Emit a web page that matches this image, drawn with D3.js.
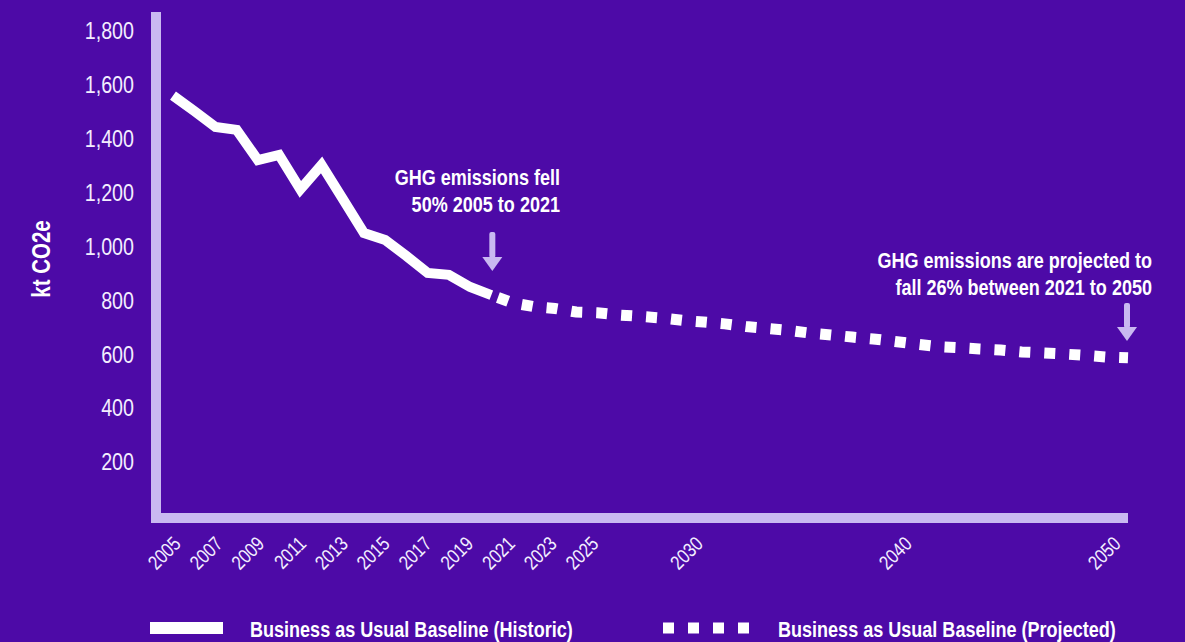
<!DOCTYPE html>
<html>
<head>
<meta charset="utf-8">
<script src="https://cdn.jsdelivr.net/npm/d3@7"></script>
<style>
  body { margin: 0; background: #4d0aa7; }
  svg { display: block; }
  .narrow { font-family: "Liberation Sans", Arial, sans-serif; }
</style>
</head>
<body>
<div id="chart"></div>
<script>
// Historic emissions, kt CO2e
var historicYears = [2005, 2006, 2007, 2008, 2009, 2010, 2011, 2012, 2013, 2014, 2015, 2016, 2017, 2018, 2019, 2020];
var historicValues = [1560, 1503, 1444, 1433, 1321, 1340, 1212, 1303, 1177, 1050, 1024, 965, 902, 895, 850, 820];

// Business as usual projection
var projectedYears = [2020, 2021, 2022, 2023, 2024, 2025, 2026, 2027, 2028, 2029,
  2030, 2031, 2032, 2033, 2034, 2035, 2036, 2037, 2038, 2039,
  2040, 2041, 2042, 2043, 2044, 2045, 2046, 2047, 2048, 2049, 2050];
var projectedValues = [820, 791, 777, 770, 757, 754, 746, 741, 735, 726,
  720, 713, 703, 696, 689, 679, 672, 664, 657, 648,
  638, 629, 625, 620, 616, 609, 605, 601, 596, 590, 587];

var xTicks = [2005, 2007, 2009, 2011, 2013, 2015, 2017, 2019, 2021, 2023, 2025, 2030, 2040, 2050];
var yTicks = [200, 400, 600, 800, 1000, 1200, 1400, 1600, 1800];

var width = 1185,
    height = 642;

var bg = "#4d0aa7",
    axisColor = "#c9b9f1",
    textColor = "#f3eeff";

// the original uses a narrow face, squeeze Liberation Sans to match
var squeeze = "scale(0.82,1)";

var svg = d3.select("#chart").append("svg")
  .attr("width", width)
  .attr("height", height);

svg.append("rect")
  .attr("width", width)
  .attr("height", height)
  .attr("fill", bg);

// Scales
var x = d3.scaleLinear()
  .domain([2005, 2050])
  .range([173, 1128]);

// tick labels sit slightly off the data positions in the original
var xLabel = x.copy().range([182, 1122]);

var y = d3.scaleLinear()
  .domain([0, 1800])
  .range([516, 31]);

// Axis bars
svg.append("rect")
  .attr("x", 151)
  .attr("y", 12)
  .attr("width", 10)
  .attr("height", 523 - 12)
  .attr("fill", axisColor);

svg.append("rect")
  .attr("x", 151)
  .attr("y", 513)
  .attr("width", x(2050) - 151)
  .attr("height", 10)
  .attr("fill", axisColor);

// Y axis labels
var yAxis = d3.axisLeft(y)
  .tickValues(yTicks)
  .tickSize(0)
  .tickPadding(0)
  .tickFormat(d3.format(","));

var yAxisG = svg.append("g")
  .attr("transform", "translate(134,0)")
  .call(yAxis);
yAxisG.select(".domain").remove();
yAxisG.selectAll("text")
  .attr("class", "narrow")
  .attr("fill", textColor)
  .attr("transform", squeeze)
  .style("font-size", "24px");

// X axis labels
svg.append("g")
  .selectAll("text")
  .data(xTicks)
  .enter()
  .append("text")
  .attr("class", "narrow")
  .attr("fill", textColor)
  .attr("text-anchor", "end")
  .style("font-size", "20px")
  .attr("transform", function(d) { return "translate(" + xLabel(d) + ",545) rotate(-45) " + squeeze; })
  .text(function(d) { return d; });

// Y axis title
svg.append("text")
  .attr("class", "narrow")
  .attr("transform", "translate(50,259) rotate(-90) " + squeeze)
  .attr("text-anchor", "middle")
  .attr("fill", "#ffffff")
  .style("font-size", "25px")
  .style("font-weight", "bold")
  .text("kt CO2e");

// Lines
var line = d3.line()
  .x(function(d) { return x(d[0]); })
  .y(function(d) { return y(d[1]); });

var historic = historicYears.map(function(d, i) { return [d, historicValues[i]]; });
var projected = projectedYears.map(function(d, i) { return [d, projectedValues[i]]; });

svg.append("path")
  .datum(projected)
  .attr("d", line)
  .attr("fill", "none")
  .attr("stroke", "#ffffff")
  .attr("stroke-width", 11)
  .attr("stroke-dasharray", "11,14")
  .attr("stroke-dashoffset", 18);

svg.append("path")
  .datum(historic)
  .attr("d", line)
  .attr("fill", "none")
  .attr("stroke", "#ffffff")
  .attr("stroke-width", 10)
  .attr("stroke-linejoin", "miter");

// Annotations
function arrow(cx, top, tip) {
  var g = svg.append("g").attr("fill", axisColor);
  g.append("rect")
    .attr("x", cx - 3)
    .attr("y", top)
    .attr("width", 6)
    .attr("height", tip - 13 - top)
    .attr("rx", 2);
  g.append("path")
    .attr("d", "M" + (cx - 10) + "," + (tip - 14) + "L" + (cx + 10) + "," + (tip - 14) + "L" + cx + "," + tip + "Z");
}

function note(xRight, yFirst, lines) {
  var t = svg.append("g")
    .attr("transform", "translate(" + xRight + ",0) " + squeeze)
    .append("text")
    .attr("class", "narrow")
    .attr("text-anchor", "end")
    .attr("fill", "#ffffff")
    .style("font-size", "22px")
    .style("font-weight", "bold");
  lines.forEach(function(l, i) {
    t.append("tspan")
      .attr("x", 0)
      .attr("y", yFirst + i * 27)
      .text(l);
  });
}

note(560, 185, ["GHG emissions fell", "50% 2005 to 2021"]);
arrow(x(2020) + 1, 232, 271);

note(1152, 268, ["GHG emissions are projected to", "fall 26% between 2021 to 2050"]);
arrow(x(2050) - 1, 303, 341);

// Legend
function legendText(xLeft, label) {
  svg.append("g")
    .attr("transform", "translate(" + xLeft + ",637) " + squeeze)
    .append("text")
    .attr("class", "narrow")
    .attr("fill", "#ffffff")
    .style("font-size", "22px")
    .style("font-weight", "bold")
    .text(label);
}

svg.append("line")
  .attr("x1", 150).attr("x2", 223)
  .attr("y1", 628).attr("y2", 628)
  .attr("stroke", "#ffffff")
  .attr("stroke-width", 12);
legendText(250, "Business as Usual Baseline (Historic)");

svg.append("line")
  .attr("x1", 663).attr("x2", 749)
  .attr("y1", 628).attr("y2", 628)
  .attr("stroke", "#ffffff")
  .attr("stroke-width", 11)
  .attr("stroke-dasharray", "11,14");
legendText(778, "Business as Usual Baseline (Projected)");
</script>
</body>
</html>
